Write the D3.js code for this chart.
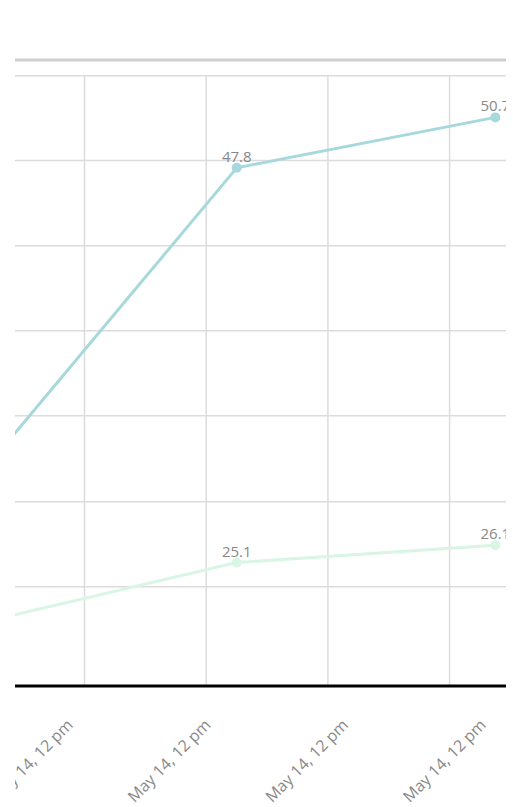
<!DOCTYPE html>
<html>
<head>
<meta charset="utf-8">
<script src="https://cdn.jsdelivr.net/npm/d3@7"></script>
<style>
  html, body { margin: 0; padding: 0; background: #fff; }
  svg { display: block; font-family: "Open Sans", sans-serif; }
</style>
</head>
<body>
<svg id="chart" width="513" height="807"></svg>
<script>
// Readings, May 14 (time of day as "HH:MM:SS")
const times = ["12:01:18", "12:22:33", "12:43:48"];
const seriesA = [30.0, 47.8, 50.7];
const seriesB = [21.6, 25.1, 26.1];
const seriesColors = ["#a7d9dc", "#d9f6e5"];

// Grid ticks and axis labels
const xGridTimes = ["12:10", "12:20", "12:30", "12:40"];
const xLabels = ["May 14, 12 pm", "May 14, 12 pm", "May 14, 12 pm", "May 14, 12 pm"];
const yTickValues = [53.13, 48.25, 43.35, 38.46, 33.57, 28.63, 23.74];
const yDomain = [18, 54];

const parse = s => {
  const p = s.split(":").map(Number);
  return new Date(2024, 4, 14, p[0], p[1], p[2] || 0);
};

const svg = d3.select("#chart");
const view = { left: 15, right: 506, top: 60, bottom: 686 };

const x = d3.scaleTime()
  .domain([parse("12:00"), parse("12:50")])
  .range([-37.7, 570.8]);
const y = d3.scaleLinear().domain(yDomain).range([view.bottom, view.top]);
// label slots along the bottom axis
const xLabel = d3.scaleLinear().domain([0, xLabels.length - 1]).range([74, 487]);

svg.append("defs").append("clipPath").attr("id", "viewport")
  .append("rect")
  .attr("x", view.left).attr("y", 0)
  .attr("width", view.right - view.left).attr("height", 807);

const g = svg.append("g").attr("clip-path", "url(#viewport)");

// top border
g.append("line")
  .attr("x1", 0).attr("x2", 513)
  .attr("y1", view.top).attr("y2", view.top)
  .attr("stroke", "#cfcfcf").attr("stroke-width", 3);

// horizontal grid
g.append("g")
  .call(d3.axisLeft(y).tickValues(yTickValues).tickSize(-600).tickFormat(""))
  .call(a => a.select(".domain").remove())
  .call(a => a.selectAll(".tick line").attr("stroke", "#dcdcdc").attr("stroke-width", 1.5));

// vertical grid
g.append("g")
  .attr("transform", `translate(0,${view.bottom})`)
  .call(d3.axisBottom(x).tickValues(xGridTimes.map(parse))
    .tickSize(y(yTickValues[0]) - view.bottom).tickFormat(""))
  .call(a => a.select(".domain").remove())
  .call(a => a.selectAll(".tick line").attr("stroke", "#dcdcdc").attr("stroke-width", 1.5));

// axis labels
g.append("g")
  .attr("transform", `translate(0,${view.bottom + 40})`)
  .selectAll("text").data(xLabels).join("text")
  .attr("transform", (d, i) => `translate(${xLabel(i)},0) rotate(-45)`)
  .attr("text-anchor", "end")
  .attr("font-size", 16)
  .attr("fill", "#888")
  .text(d => d);

// baseline
g.append("line")
  .attr("x1", 0).attr("x2", 513)
  .attr("y1", view.bottom).attr("y2", view.bottom)
  .attr("stroke", "#000").attr("stroke-width", 3);

// series
const series = [seriesA, seriesB];
const px = i => x(parse(times[i]));
const line = d3.line().x((d, i) => px(i)).y(d => y(d));

series.forEach((vals, si) => {
  const s = g.append("g");
  s.append("path")
    .datum(vals)
    .attr("d", line)
    .attr("fill", "none")
    .attr("stroke", seriesColors[si])
    .attr("stroke-width", 3);
  s.selectAll("circle").data(vals).join("circle")
    .attr("cx", (d, i) => px(i))
    .attr("cy", d => y(d))
    .attr("r", 5)
    .attr("fill", seriesColors[si]);
  // value labels for points inside the visible window
  const shown = vals.map((v, i) => ({ v, i })).filter(d => px(d.i) >= view.left);
  s.selectAll("text").data(shown).join("text")
    .attr("x", d => px(d.i))
    .attr("y", d => y(d.v) - 6)
    .attr("text-anchor", "middle")
    .attr("font-size", 15)
    .attr("fill", "#888")
    .text(d => d3.format(".1f")(d.v));
});
</script>
</body>
</html>
